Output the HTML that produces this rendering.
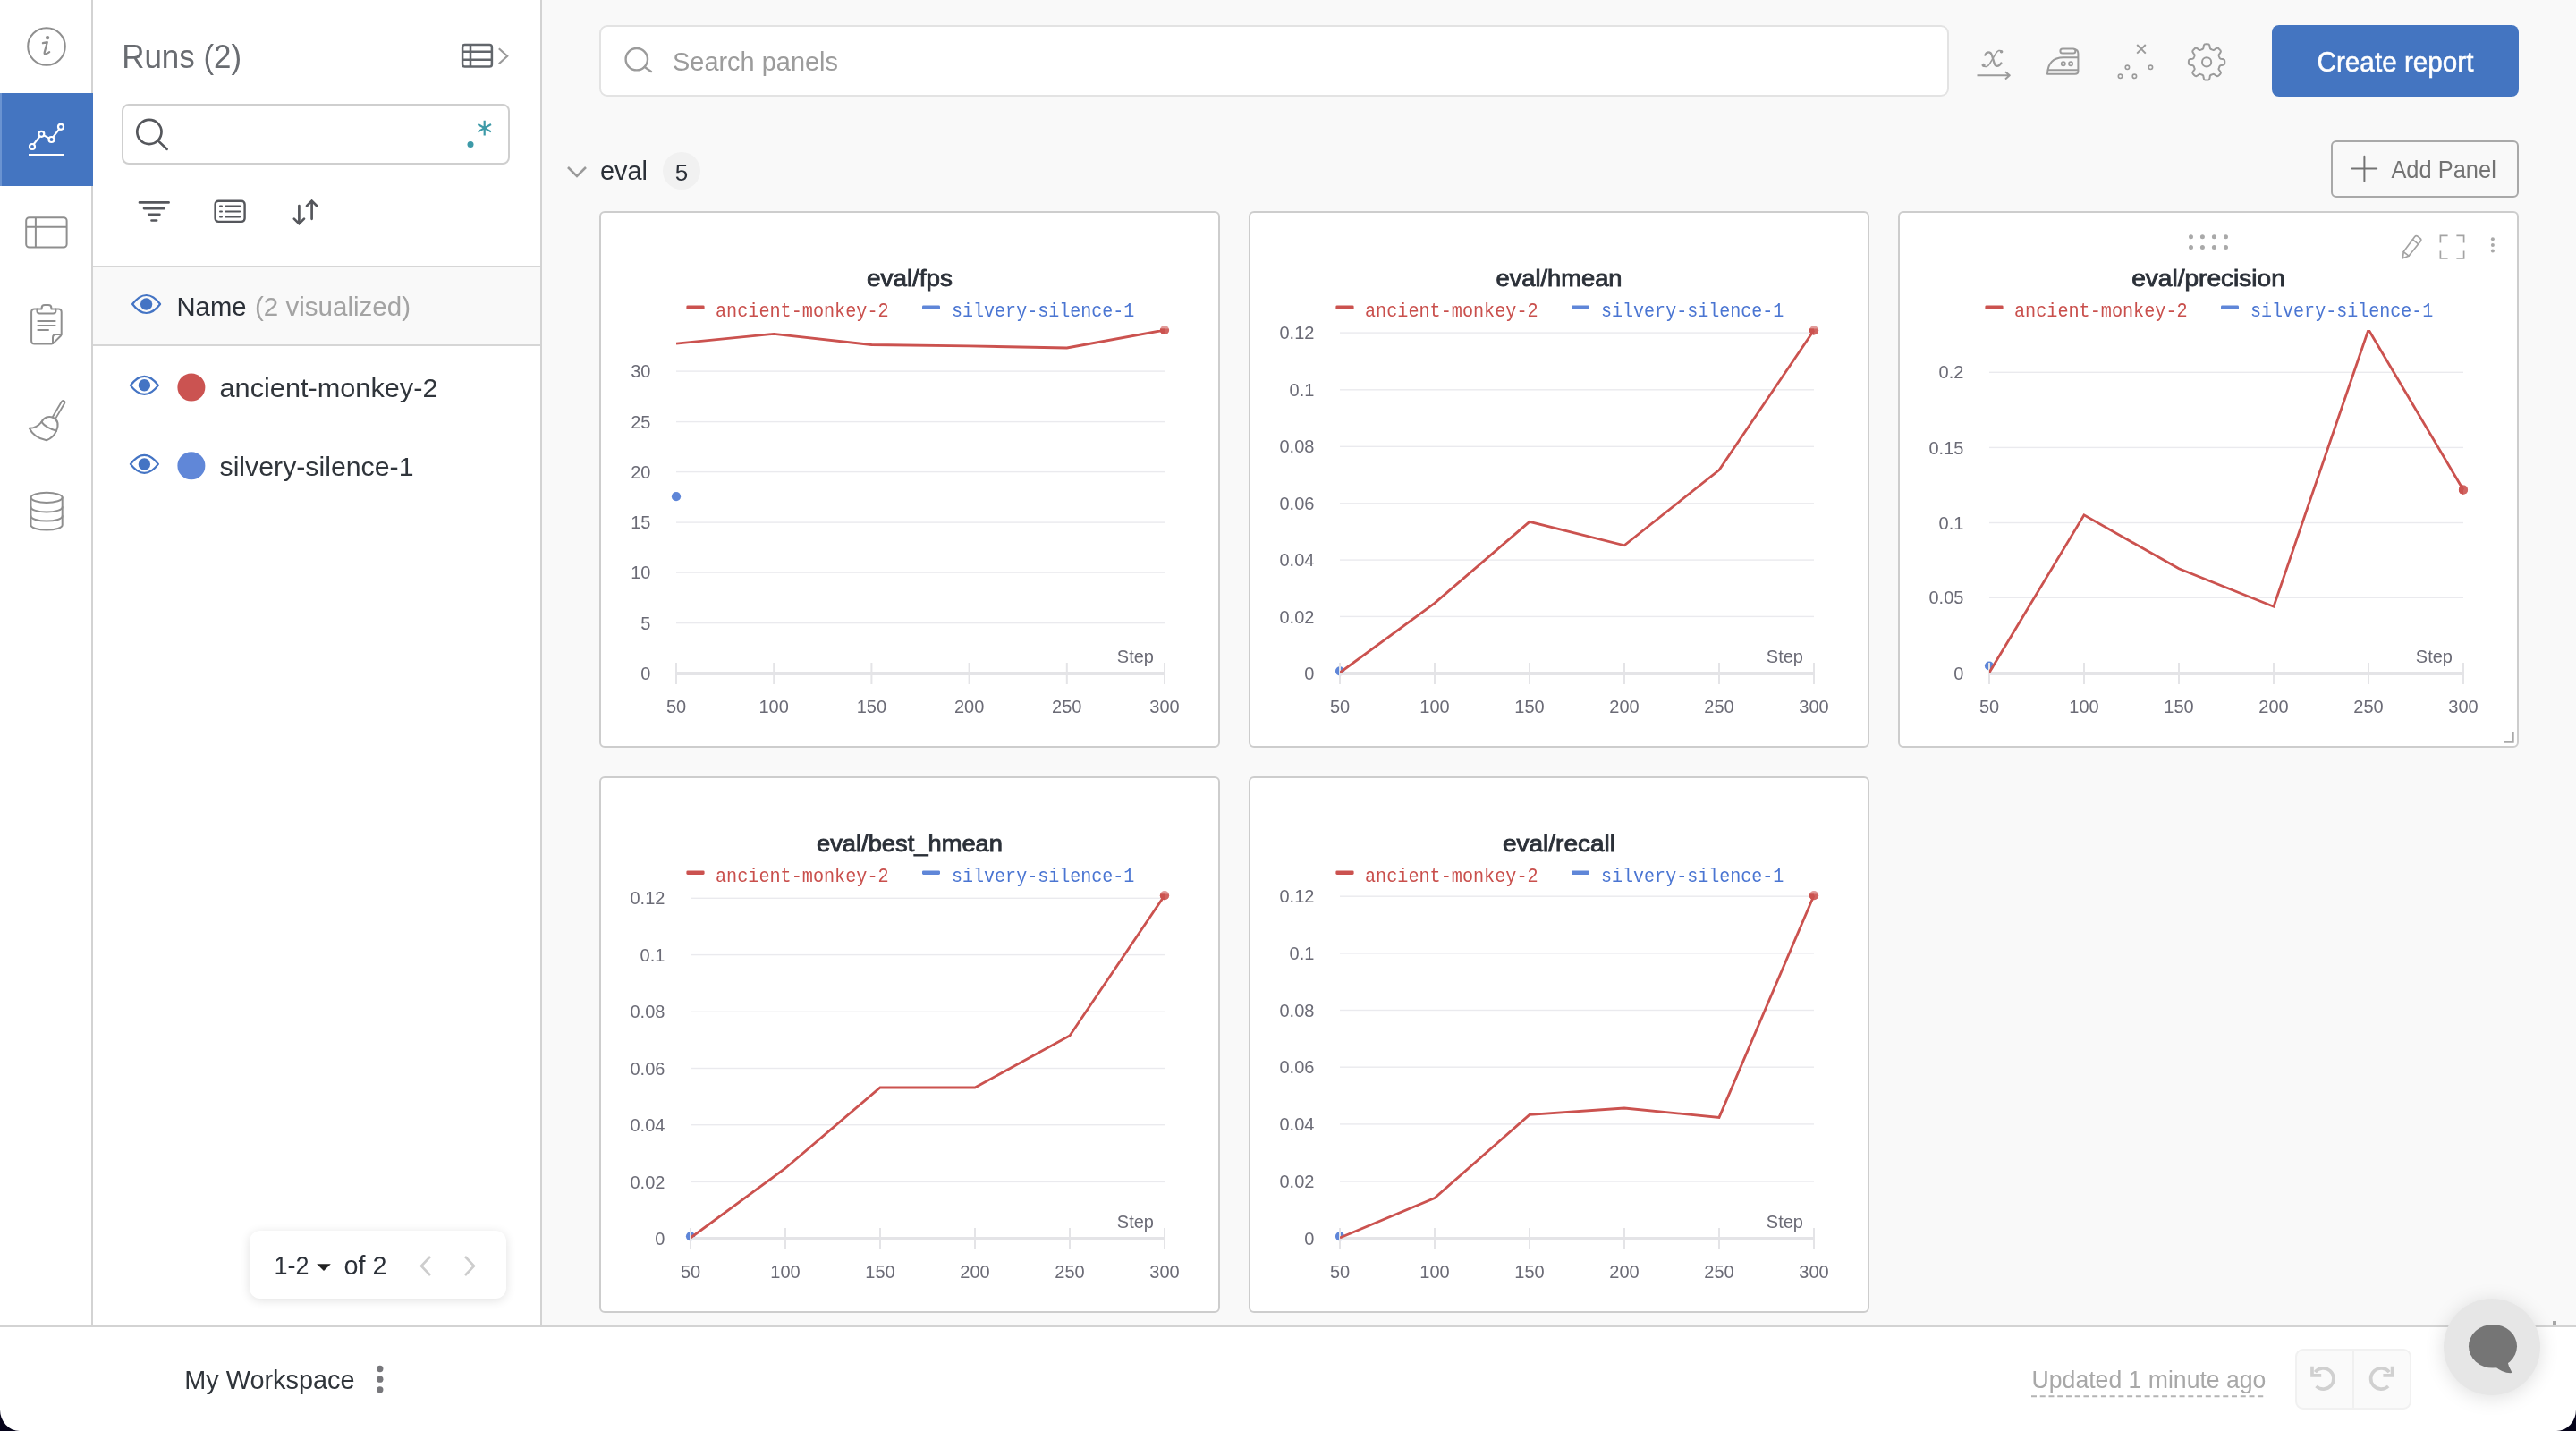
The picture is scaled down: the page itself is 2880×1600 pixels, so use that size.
<!DOCTYPE html>
<html lang="en"><head><meta charset="utf-8"><title>Workspace</title>
<style>
*{box-sizing:border-box;margin:0;padding:0}
html,body{width:2880px;height:1600px;overflow:hidden;background:#fff}
body{position:relative;font-family:"Liberation Sans", sans-serif;color:#2b3038}
svg{display:block;overflow:visible}
#nav,#side,#main,#foot{will-change:transform}
svg text{font-family:"Liberation Sans", sans-serif}
svg text.m{font-family:"Liberation Mono", monospace}
.abs{position:absolute}
.t{position:absolute;white-space:nowrap;line-height:1}
#nav{position:absolute;left:0;top:0;width:104px;height:1482px;background:#fff;border-right:2px solid #d3d3d3}
#nav .active{position:absolute;left:0;top:104px;width:104px;height:104px;background:#4475c1;border-left:2px solid #6a93d1}
#side{position:absolute;left:104px;top:0;width:502px;height:1482px;background:#fff;border-right:2px solid #d3d3d3}
#main{position:absolute;left:606px;top:0;width:2274px;height:1482px;background:#f9f9f9}
#foot{position:absolute;left:0;top:1482px;width:2880px;height:118px;background:#fff;border-top:2px solid #d3d3d3}
.panel{position:absolute;width:694px;height:600px;background:#fff;border:2px solid #cdcdcd;border-radius:6px;overflow:hidden}
.hdr{position:absolute;left:0;top:297px;width:500px;height:90px;background:#f9f9f9;border-top:2px solid #d6d6d6;border-bottom:2px solid #d6d6d6}
.sbox{position:absolute;left:32px;top:116px;width:434px;height:68px;border:2px solid #cfcfcf;border-radius:8px;background:#fff}
.psearch{position:absolute;left:64px;top:28px;width:1509px;height:80px;border:2px solid #e3e3e3;border-radius:9px;background:#fff}
.btn{position:absolute;left:1934px;top:28px;width:276px;height:80px;background:#4475c1;border-radius:8px}
.addp{position:absolute;left:2000px;top:157px;width:210px;height:64px;border:2px solid #a9a9a9;border-radius:6px}
.badge{position:absolute;left:135px;top:170px;width:42px;height:42px;border-radius:21px;background:#f1f1f1}
.pager{position:absolute;left:175px;top:1376px;width:287px;height:76px;background:#fff;border-radius:12px;box-shadow:0 2px 12px rgba(0,0,0,.12)}
.undo{position:absolute;left:2566px;top:24px;width:130px;height:68px;background:#fafafa;border:2px solid #f1f1f1;border-radius:9px}
.undo i{position:absolute;left:62px;top:0;width:2px;height:64px;background:#f0f0f0}
.chat{position:absolute;left:2732px;top:1452px;width:108px;height:108px;border-radius:54px;background:#e6e6e6;box-shadow:0 3px 22px rgba(0,0,0,.13)}
.corner{position:absolute;bottom:0;width:22px;height:24px;background:#05031a;overflow:hidden}
.corner b{position:absolute;width:44px;height:48px;border-radius:22px/24px;background:#fff;top:-24px}
</style></head><body>
<div id="nav">
<div class="active"></div>
<svg class="abs" style="left:0;top:0" width="104" height="700" fill="none" stroke-linecap="round" stroke-linejoin="round"><g stroke="#8f8f8f" stroke-width="2"><circle cx="52" cy="52" r="20.8"/><path d="M47.9 48.2 L52.8 47.2 L49.7 58.6 Q49.2 61 51.4 60.3 Q53.4 59.6 55.2 58.2" stroke-width="2.2"/><circle cx="53.1" cy="42.1" r="1.2" fill="#8f8f8f"/></g><g stroke="#fff" stroke-width="2.2"><path d="M37.8 161.2 L44.4 152.6 M49 151.4 L54.6 154.4 M59.4 153.2 L66 144.6"/><circle cx="36" cy="164" r="3"/><circle cx="46.3" cy="149.8" r="3"/><circle cx="57.5" cy="156" r="3"/><circle cx="68" cy="141.8" r="3"/><path d="M32 173 H72" stroke-linecap="butt"/></g><g stroke="#8f8f8f" stroke-width="2"><rect x="29.2" y="243.2" width="45.4" height="33.4" rx="3.5"/><path d="M39.9 243.2 V276.6 M29.2 253.7 H74.6" stroke-linecap="butt"/><path d="M41.4 345.4 H38.6 Q35.1 345.4 35.1 348.9 V380.9 Q35.1 384.4 38.6 384.4 H57.6 Q59 384.4 60 383.4 L67.7 375.7 Q68.7 374.7 68.7 373.3 V348.9 Q68.7 345.4 65.2 345.4 H62.4"/><path d="M41.4 345.4 H46.6 V344.4 Q46.6 341 50 341 H54 Q57.4 341 57.4 344.4 V345.4 H62.4 V347.6 Q62.4 350.6 59.4 350.6 H44.4 Q41.4 350.6 41.4 347.6 Z"/><path d="M42.4 358.9 H61.6 M42.4 363.9 H61.6 M42.4 369 H54"/><path d="M59 384 V377.5 Q59 374 62.5 374 H68.5"/></g><path d="M70.5 450 L60.4 467.2" stroke="#8f8f8f" stroke-width="5.6"/><path d="M70.5 450 L60.4 467.2" stroke="#fff" stroke-width="1.9"/><g stroke="#8f8f8f" stroke-width="2"><path d="M46.5 471.8 C49 466.5 54.5 464.5 59.5 467 C64.5 469.5 66 474.5 63 481.6" fill="#fff"/><path d="M46.5 471.8 C49.5 476 56 479.5 63 481.6"/><path d="M46.5 471.8 C42.5 476.5 38 478.8 32.8 478.7 C36 485.5 43 490.5 52 492.2 C56.5 490.5 61 486.5 63 481.6"/><ellipse cx="52.1" cy="556.3" rx="17.6" ry="5.6"/><path d="M34.5 556.3 V587 A17.6 5.6 0 0 0 69.7 587 V556.3"/><path d="M34.5 566.9 A17.6 5.6 0 0 0 69.7 566.9 M34.5 577 A17.6 5.6 0 0 0 69.7 577"/></g></svg>
</div>
<div id="side">
<div class="sbox"></div>
<div class="hdr"></div>
<svg class="abs" style="left:0;top:0" width="500" height="1482">
<text x="32.2" y="76" font-size="36.8" fill="#696c71" text-anchor="start" textLength="134" lengthAdjust="spacingAndGlyphs">Runs (2)</text>
<text x="93.5" y="352.6" font-size="29" fill="#2b3038" text-anchor="start" textLength="78" lengthAdjust="spacingAndGlyphs">Name</text>
<text x="181" y="352.5" font-size="30" fill="#a3a3a3" text-anchor="start" textLength="174" lengthAdjust="spacingAndGlyphs">(2 visualized)</text>
<text x="141.5" y="444" font-size="30" fill="#30353b" text-anchor="start" textLength="244" lengthAdjust="spacingAndGlyphs">ancient-monkey-2</text>
<text x="141.5" y="532" font-size="30" fill="#30353b" text-anchor="start" textLength="217" lengthAdjust="spacingAndGlyphs">silvery-silence-1</text>
</svg>
<svg class="abs" style="left:0;top:0" width="500" height="600" fill="none" stroke-linecap="round" stroke-linejoin="round"><g stroke="#62666b" stroke-width="2.5"><rect x="413.1" y="50" width="32.8" height="24.6" rx="2.6"/><path d="M422 50 V74.6 M413.1 57.7 H445.9 M413.1 66.7 H445.9" stroke-linecap="butt"/></g><path d="M453.8 54.2 L463.2 62.7 L453.8 71.2" stroke="#9a9a9a" stroke-width="2.2" stroke-linecap="butt" stroke-linejoin="miter"/><g stroke="#55575c" stroke-width="2.7"><circle cx="62.9" cy="147.5" r="13.6"/><path d="M73 157.6 L82.6 166.8"/><path d="M52 226.4 H84.6 M57 233.1 H79.6 M62.2 239.8 H74.4 M65.5 246.5 H71.1"/></g><g stroke="#55575c" stroke-width="2.4"><rect x="136.6" y="224.8" width="33" height="23.1" rx="3.6"/><path d="M142 230.4 H144 M148.4 230.4 H164.2 M142 236.4 H144 M148.4 236.4 H164.2 M142 242.4 H144 M148.4 242.4 H164.2" stroke-width="2"/></g><g stroke="#55575c" stroke-width="2.7" stroke-linejoin="miter"><path d="M230.4 230 V249.6 M224.8 244.6 L230.4 250.2 L236 244.6"/><path d="M244.6 244.8 V225.2 M239 230.2 L244.6 224.6 L250.2 230.2"/></g><g stroke="#3d9aa8" stroke-width="2.2" stroke-linecap="butt"><path d="M437.7 134.8 V151.6 M430.4 139 L445 147.4 M430.4 147.4 L445 139"/></g><circle cx="422" cy="161.6" r="3.5" fill="#3d9aa8"/><path d="M44.1 340 Q51.6 330 59.6 330 Q67.6 330 75.1 340 Q67.6 350 59.6 350 Q51.6 350 44.1 340 Z" fill="none" stroke="#4474c4" stroke-width="2.2"/><circle cx="59.6" cy="340" r="6.7" fill="#4474c4"/><path d="M41.9 430.8 Q49.4 420.8 57.4 420.8 Q65.4 420.8 72.9 430.8 Q65.4 440.8 57.4 440.8 Q49.4 440.8 41.9 430.8 Z" fill="none" stroke="#4474c4" stroke-width="2.2"/><circle cx="57.4" cy="430.8" r="6.7" fill="#4474c4"/><path d="M41.9 518.9 Q49.4 508.9 57.4 508.9 Q65.4 508.9 72.9 518.9 Q65.4 528.9 57.4 528.9 Q49.4 528.9 41.9 518.9 Z" fill="none" stroke="#4474c4" stroke-width="2.2"/><circle cx="57.4" cy="518.9" r="6.7" fill="#4474c4"/><circle cx="109.9" cy="433" r="15.5" fill="#cb5351"/><circle cx="109.9" cy="520.7" r="15.5" fill="#6087d8"/></svg>
<div class="pager"></div>
<svg class="abs" style="left:0;top:0" width="500" height="1482">
<text x="202.5" y="1425" font-size="30" fill="#2b3038" text-anchor="start" textLength="39" lengthAdjust="spacingAndGlyphs">1-2</text>
<path d="M250.2 1413.3 h15.6 l-7.8 7.8z" fill="#222"/>
<text x="280.5" y="1425" font-size="30" fill="#2b3038" text-anchor="start" textLength="48" lengthAdjust="spacingAndGlyphs">of 2</text>
<path d="M377 1405 l-10 10.5 l10 10.5" fill="none" stroke="#cdcdcd" stroke-width="2.6"/>
<path d="M416 1405 l10 10.5 l-10 10.5" fill="none" stroke="#cdcdcd" stroke-width="2.6"/>
</svg>
</div>
<div id="main">
<div class="psearch"></div>
<div class="btn"></div>
<div class="addp"></div>
<div class="badge"></div>
<svg class="abs" style="left:0;top:0" width="2274" height="240">
<text x="146" y="78.6" font-size="29.5" fill="#9c9c9c" text-anchor="start" textLength="185" lengthAdjust="spacingAndGlyphs">Search panels</text>
<text x="2072" y="79.5" font-size="30.5" fill="#fff" text-anchor="middle" textLength="175" lengthAdjust="spacingAndGlyphs" stroke="#fff" stroke-width=".5">Create report</text>
<text x="65" y="201" font-size="30" fill="#2b3038" text-anchor="start" textLength="53" lengthAdjust="spacingAndGlyphs">eval</text>
<text x="156" y="201.5" font-size="26" fill="#2b3038" text-anchor="middle">5</text>
<text x="2067.4" y="199.2" font-size="27.2" fill="#737373" text-anchor="start" textLength="117.4" lengthAdjust="spacingAndGlyphs">Add Panel</text>
<path d="M2023.6 188.6h27.6M2037.4 174.8v27.6" stroke="#737373" stroke-width="2" stroke-linecap="round" fill="none"/>
<path d="M29 187 l10 10 l10 -10" fill="none" stroke="#9a9a9a" stroke-width="2.6"/>
<g fill="none" stroke="#9b9b9b" stroke-width="2" stroke-linecap="round" stroke-linejoin="round"><path d="M1604.5 84.3 H1640.6 M1636 80.2 L1640.8000000000002 84.3 L1636 88.4" stroke-linecap="butt"/><path d="M1613.4 61.6 C1615 57.4 1619.6 57 1621 62 L1623.6 70.6 C1624.8000000000002 75 1628.6 75 1631.4 70.4" stroke-width="2.3"/><path d="M1631.8000000000002 57.6 C1630 55.6 1627.4 56.2 1625.4 59.6 L1618.4 71.4 C1616.4 75 1613 75.4 1611.1999999999998 73" stroke-width="1.6"/><circle cx="1631.6" cy="57.8" r="1.1" fill="#9b9b9b" stroke-width="1.4"/><circle cx="1611.6" cy="72.8" r="1.4" fill="#9b9b9b" stroke-width="1.4"/><rect x="1697.4" y="54.4" width="17" height="5" rx="2.5"/><path d="M1713.4 55 Q1717.4 55.6 1717.4 60 V79.4 Q1717.4 82.8 1714 82.8 H1683 Q1683.6 64.4 1701 64.2 H1717.4 M1683.4 78.3 H1717.4"/><circle cx="1700.8000000000002" cy="71.2" r="2.1" stroke-width="1.7"/><circle cx="1709.1" cy="71.2" r="2.1" stroke-width="1.7"/><path d="M1783.1999999999998 50 L1792.8000000000002 59.6 M1792.8000000000002 50 L1783.1999999999998 59.6" stroke-linecap="butt"/><circle cx="1772.4" cy="75.3" r="2.2" stroke-width="1.6"/><circle cx="1798.4" cy="75.3" r="2.2" stroke-width="1.6"/><circle cx="1764.5" cy="85.3" r="2.2" stroke-width="1.6"/><circle cx="1780.4" cy="85.3" r="2.2" stroke-width="1.6"/><path d="M1861.1 49.2 L1861.8 49.2 L1862.4 49.3 L1863.1 49.4 L1863.7 49.7 L1864.2 50.5 L1864.6 52.0 L1864.8 53.6 L1865.1 54.4 L1865.5 54.8 L1866.0 55.0 L1866.5 55.2 L1866.9 55.4 L1867.4 55.6 L1867.8 55.7 L1868.3 55.9 L1868.9 56.0 L1869.7 55.6 L1870.9 54.7 L1872.3 53.8 L1873.2 53.6 L1873.9 53.9 L1874.4 54.2 L1874.9 54.7 L1875.4 55.1 L1875.8 55.6 L1876.3 56.1 L1876.6 56.6 L1876.9 57.3 L1876.7 58.2 L1875.8 59.6 L1874.9 60.8 L1874.5 61.6 L1874.6 62.2 L1874.8 62.7 L1874.9 63.1 L1875.1 63.6 L1875.3 64.0 L1875.5 64.5 L1875.7 65.0 L1876.1 65.4 L1876.9 65.7 L1878.5 65.9 L1880.0 66.3 L1880.8 66.8 L1881.1 67.4 L1881.2 68.1 L1881.3 68.7 L1881.3 69.4 L1881.3 70.1 L1881.2 70.7 L1881.1 71.4 L1880.8 72.0 L1880.0 72.5 L1878.5 72.9 L1876.9 73.1 L1876.1 73.4 L1875.7 73.8 L1875.5 74.3 L1875.3 74.8 L1875.1 75.2 L1874.9 75.7 L1874.8 76.1 L1874.6 76.6 L1874.5 77.2 L1874.9 78.0 L1875.8 79.2 L1876.7 80.6 L1876.9 81.5 L1876.6 82.2 L1876.3 82.7 L1875.8 83.2 L1875.4 83.7 L1874.9 84.1 L1874.4 84.6 L1873.9 84.9 L1873.2 85.2 L1872.3 85.0 L1870.9 84.1 L1869.7 83.2 L1868.9 82.8 L1868.3 82.9 L1867.8 83.1 L1867.4 83.2 L1866.9 83.4 L1866.5 83.6 L1866.0 83.8 L1865.5 84.0 L1865.1 84.4 L1864.8 85.2 L1864.6 86.8 L1864.2 88.3 L1863.7 89.1 L1863.1 89.4 L1862.4 89.5 L1861.8 89.6 L1861.1 89.6 L1860.4 89.6 L1859.8 89.5 L1859.1 89.4 L1858.5 89.1 L1858.0 88.3 L1857.6 86.8 L1857.4 85.2 L1857.1 84.4 L1856.7 84.0 L1856.2 83.8 L1855.7 83.6 L1855.3 83.4 L1854.8 83.2 L1854.4 83.1 L1853.9 82.9 L1853.3 82.8 L1852.5 83.2 L1851.3 84.1 L1849.9 85.0 L1849.0 85.2 L1848.3 84.9 L1847.8 84.6 L1847.3 84.1 L1846.8 83.7 L1846.4 83.2 L1845.9 82.7 L1845.6 82.2 L1845.3 81.5 L1845.5 80.6 L1846.4 79.2 L1847.3 78.0 L1847.7 77.2 L1847.6 76.6 L1847.4 76.1 L1847.3 75.7 L1847.1 75.2 L1846.9 74.8 L1846.7 74.3 L1846.5 73.8 L1846.1 73.4 L1845.3 73.1 L1843.7 72.9 L1842.2 72.5 L1841.4 72.0 L1841.1 71.4 L1841.0 70.7 L1840.9 70.1 L1840.9 69.4 L1840.9 68.7 L1841.0 68.1 L1841.1 67.4 L1841.4 66.8 L1842.2 66.3 L1843.7 65.9 L1845.3 65.7 L1846.1 65.4 L1846.5 65.0 L1846.7 64.5 L1846.9 64.0 L1847.1 63.6 L1847.3 63.1 L1847.4 62.7 L1847.6 62.2 L1847.7 61.6 L1847.3 60.8 L1846.4 59.6 L1845.5 58.2 L1845.3 57.3 L1845.6 56.6 L1845.9 56.1 L1846.4 55.6 L1846.8 55.1 L1847.3 54.7 L1847.8 54.2 L1848.3 53.9 L1849.0 53.6 L1849.9 53.8 L1851.3 54.7 L1852.5 55.6 L1853.3 56.0 L1853.9 55.9 L1854.4 55.7 L1854.8 55.6 L1855.3 55.4 L1855.7 55.2 L1856.2 55.0 L1856.7 54.8 L1857.1 54.4 L1857.4 53.6 L1857.6 52.0 L1858.0 50.5 L1858.5 49.7 L1859.1 49.4 L1859.8 49.3 L1860.4 49.2 L1861.1 49.2Z"/><circle cx="1861.1" cy="69.4" r="5.1"/></g><g fill="none" stroke="#9b9b9b" stroke-width="2.4" stroke-linecap="round"><circle cx="105.8" cy="66.2" r="12.2"/><path d="M114.8 75 L122 80"/></g>
</svg>
<div class="panel" style="left:64px;top:236px">
<svg width="690" height="596" viewBox="2 2 690 596">
<clipPath id="c64_236"><rect x="86" y="133" width="600" height="600"/></clipPath>
<circle cx="86" cy="319.2" r="5.1" fill="#5f86d8"/>
<rect x="86" y="459.9" width="546" height="1.4" fill="#eaeaee"/>
<rect x="86" y="403.4" width="546" height="1.4" fill="#eaeaee"/>
<rect x="86" y="347.4" width="546" height="1.4" fill="#eaeaee"/>
<rect x="86" y="290.9" width="546" height="1.4" fill="#eaeaee"/>
<rect x="86" y="234.9" width="546" height="1.4" fill="#eaeaee"/>
<rect x="86" y="178.4" width="546" height="1.4" fill="#eaeaee"/>
<rect x="86" y="515" width="546" height="4" fill="#e4e4e7"/>
<rect x="85.0" y="505" width="2" height="24" fill="#e4e4e7"/>
<rect x="194.2" y="505" width="2" height="24" fill="#e4e4e7"/>
<rect x="303.4" y="505" width="2" height="24" fill="#e4e4e7"/>
<rect x="412.6" y="505" width="2" height="24" fill="#e4e4e7"/>
<rect x="521.8" y="505" width="2" height="24" fill="#e4e4e7"/>
<rect x="631.0" y="505" width="2" height="24" fill="#e4e4e7"/>
<g font-size="20" fill="#6b6b76">
<text x="57.4" y="524.2" text-anchor="end">0</text>
<text x="57.4" y="467.7" text-anchor="end">5</text>
<text x="57.4" y="411.2" text-anchor="end">10</text>
<text x="57.4" y="355.2" text-anchor="end">15</text>
<text x="57.4" y="298.7" text-anchor="end">20</text>
<text x="57.4" y="242.7" text-anchor="end">25</text>
<text x="57.4" y="186.2" text-anchor="end">30</text>
<text x="86.0" y="561" text-anchor="middle">50</text>
<text x="195.2" y="561" text-anchor="middle">100</text>
<text x="304.4" y="561" text-anchor="middle">150</text>
<text x="413.6" y="561" text-anchor="middle">200</text>
<text x="522.8" y="561" text-anchor="middle">250</text>
<text x="632.0" y="561" text-anchor="middle">300</text>
<text x="620" y="505" text-anchor="end">Step</text>
</g>
<polyline points="86.0,148.2 195.2,137.3 304.4,149.5 413.6,150.9 522.8,153.0 632.0,133.0" fill="none" stroke="#cb524f" stroke-width="2.8" stroke-linejoin="miter" clip-path="url(#c64_236)"/>
<clipPath id="d64_236"><rect x="0" y="131.4" width="700" height="600"/></clipPath>
<clipPath id="e64_236"><rect x="0" y="131.4" width="632" height="600"/></clipPath>
<circle cx="632" cy="133.0" r="5.1" fill="#cb524f" fill-opacity=".58"/>
<circle cx="632" cy="133.0" r="5.1" fill="#cb524f" fill-opacity=".75" clip-path="url(#d64_236)"/>
<circle cx="632" cy="133.0" r="5.1" fill="#cb524f" clip-path="url(#e64_236)"/>
<text x="347" y="83.5" font-size="26" fill="#2b3038" text-anchor="middle" textLength="96" lengthAdjust="spacingAndGlyphs" stroke="#2b3038" stroke-width=".85">eval/fps</text>
<rect x="97.4" y="105.4" width="20.2" height="4.5" rx="1.4" fill="#cb524f"/>
<text x="130" y="118" font-size="22.5" fill="#c94f4c" text-anchor="start" class="m" textLength="193.6" lengthAdjust="spacingAndGlyphs">ancient-monkey-2</text>
<rect x="361" y="105.4" width="20" height="4.5" rx="1.4" fill="#5f86d8"/>
<text x="394" y="118" font-size="22.5" fill="#4a75d2" text-anchor="start" class="m" textLength="204.4" lengthAdjust="spacingAndGlyphs">silvery-silence-1</text>
</svg></div>
<div class="panel" style="left:790px;top:236px">
<svg width="690" height="596" viewBox="2 2 690 596">
<clipPath id="c790_236"><rect x="102" y="133" width="600" height="600"/></clipPath>
<circle cx="102" cy="514.3" r="5.1" fill="#5f86d8"/>
<rect x="102" y="452.7" width="530" height="1.4" fill="#eaeaee"/>
<rect x="102" y="389.4" width="530" height="1.4" fill="#eaeaee"/>
<rect x="102" y="326.1" width="530" height="1.4" fill="#eaeaee"/>
<rect x="102" y="262.6" width="530" height="1.4" fill="#eaeaee"/>
<rect x="102" y="199.1" width="530" height="1.4" fill="#eaeaee"/>
<rect x="102" y="135.4" width="530" height="1.4" fill="#eaeaee"/>
<rect x="102" y="515" width="530" height="4" fill="#e4e4e7"/>
<rect x="101.0" y="505" width="2" height="24" fill="#e4e4e7"/>
<rect x="207.0" y="505" width="2" height="24" fill="#e4e4e7"/>
<rect x="313.0" y="505" width="2" height="24" fill="#e4e4e7"/>
<rect x="419.0" y="505" width="2" height="24" fill="#e4e4e7"/>
<rect x="525.0" y="505" width="2" height="24" fill="#e4e4e7"/>
<rect x="631.0" y="505" width="2" height="24" fill="#e4e4e7"/>
<g font-size="20" fill="#6b6b76">
<text x="73.4" y="524.2" text-anchor="end">0</text>
<text x="73.4" y="460.5" text-anchor="end">0.02</text>
<text x="73.4" y="397.2" text-anchor="end">0.04</text>
<text x="73.4" y="333.9" text-anchor="end">0.06</text>
<text x="73.4" y="270.4" text-anchor="end">0.08</text>
<text x="73.4" y="206.9" text-anchor="end">0.1</text>
<text x="73.4" y="143.2" text-anchor="end">0.12</text>
<text x="102.0" y="561" text-anchor="middle">50</text>
<text x="208.0" y="561" text-anchor="middle">100</text>
<text x="314.0" y="561" text-anchor="middle">150</text>
<text x="420.0" y="561" text-anchor="middle">200</text>
<text x="526.0" y="561" text-anchor="middle">250</text>
<text x="632.0" y="561" text-anchor="middle">300</text>
<text x="620" y="505" text-anchor="end">Step</text>
</g>
<polyline points="102.0,516.0 208.0,438.3 314.0,347.4 420.0,373.8 526.0,289.5 632.0,133.3" fill="none" stroke="#cb524f" stroke-width="2.8" stroke-linejoin="miter" clip-path="url(#c790_236)"/>
<clipPath id="d790_236"><rect x="0" y="131.4" width="700" height="600"/></clipPath>
<clipPath id="e790_236"><rect x="0" y="131.4" width="632" height="600"/></clipPath>
<circle cx="632" cy="133.3" r="5.1" fill="#cb524f" fill-opacity=".58"/>
<circle cx="632" cy="133.3" r="5.1" fill="#cb524f" fill-opacity=".75" clip-path="url(#d790_236)"/>
<circle cx="632" cy="133.3" r="5.1" fill="#cb524f" clip-path="url(#e790_236)"/>
<text x="347" y="83.5" font-size="26" fill="#2b3038" text-anchor="middle" textLength="141" lengthAdjust="spacingAndGlyphs" stroke="#2b3038" stroke-width=".85">eval/hmean</text>
<rect x="97.4" y="105.4" width="20.2" height="4.5" rx="1.4" fill="#cb524f"/>
<text x="130" y="118" font-size="22.5" fill="#c94f4c" text-anchor="start" class="m" textLength="193.6" lengthAdjust="spacingAndGlyphs">ancient-monkey-2</text>
<rect x="361" y="105.4" width="20" height="4.5" rx="1.4" fill="#5f86d8"/>
<text x="394" y="118" font-size="22.5" fill="#4a75d2" text-anchor="start" class="m" textLength="204.4" lengthAdjust="spacingAndGlyphs">silvery-silence-1</text>
</svg></div>
<div class="panel" style="left:1516px;top:236px">
<svg width="690" height="596" viewBox="2 2 690 596">
<clipPath id="c1516_236"><rect x="102" y="133" width="600" height="600"/></clipPath>
<circle cx="102" cy="508.5" r="5.1" fill="#5f86d8"/>
<rect x="102" y="431.6" width="530" height="1.4" fill="#eaeaee"/>
<rect x="102" y="347.8" width="530" height="1.4" fill="#eaeaee"/>
<rect x="102" y="263.7" width="530" height="1.4" fill="#eaeaee"/>
<rect x="102" y="179.6" width="530" height="1.4" fill="#eaeaee"/>
<rect x="102" y="515" width="530" height="4" fill="#e4e4e7"/>
<rect x="101.0" y="505" width="2" height="24" fill="#e4e4e7"/>
<rect x="207.0" y="505" width="2" height="24" fill="#e4e4e7"/>
<rect x="313.0" y="505" width="2" height="24" fill="#e4e4e7"/>
<rect x="419.0" y="505" width="2" height="24" fill="#e4e4e7"/>
<rect x="525.0" y="505" width="2" height="24" fill="#e4e4e7"/>
<rect x="631.0" y="505" width="2" height="24" fill="#e4e4e7"/>
<g font-size="20" fill="#6b6b76">
<text x="73.4" y="524.2" text-anchor="end">0</text>
<text x="73.4" y="439.4" text-anchor="end">0.05</text>
<text x="73.4" y="355.6" text-anchor="end">0.1</text>
<text x="73.4" y="271.5" text-anchor="end">0.15</text>
<text x="73.4" y="187.4" text-anchor="end">0.2</text>
<text x="102.0" y="561" text-anchor="middle">50</text>
<text x="208.0" y="561" text-anchor="middle">100</text>
<text x="314.0" y="561" text-anchor="middle">150</text>
<text x="420.0" y="561" text-anchor="middle">200</text>
<text x="526.0" y="561" text-anchor="middle">250</text>
<text x="632.0" y="561" text-anchor="middle">300</text>
<text x="620" y="505" text-anchor="end">Step</text>
</g>
<polyline points="102.0,516.0 208.0,339.9 314.0,399.8 420.0,442.2 526.0,132.5 632.0,311.7" fill="none" stroke="#cb524f" stroke-width="2.8" stroke-linejoin="miter" clip-path="url(#c1516_236)"/>
<clipPath id="d1516_236"><rect x="0" y="131.4" width="700" height="600"/></clipPath>
<clipPath id="e1516_236"><rect x="0" y="131.4" width="632" height="600"/></clipPath>
<circle cx="632" cy="311.7" r="5.1" fill="#cb524f" fill-opacity=".58"/>
<circle cx="632" cy="311.7" r="5.1" fill="#cb524f" fill-opacity=".75" clip-path="url(#d1516_236)"/>
<circle cx="632" cy="311.7" r="5.1" fill="#cb524f" clip-path="url(#e1516_236)"/>
<text x="347" y="83.5" font-size="26" fill="#2b3038" text-anchor="middle" textLength="171.5" lengthAdjust="spacingAndGlyphs" stroke="#2b3038" stroke-width=".85">eval/precision</text>
<rect x="97.4" y="105.4" width="20.2" height="4.5" rx="1.4" fill="#cb524f"/>
<text x="130" y="118" font-size="22.5" fill="#c94f4c" text-anchor="start" class="m" textLength="193.6" lengthAdjust="spacingAndGlyphs">ancient-monkey-2</text>
<rect x="361" y="105.4" width="20" height="4.5" rx="1.4" fill="#5f86d8"/>
<text x="394" y="118" font-size="22.5" fill="#4a75d2" text-anchor="start" class="m" textLength="204.4" lengthAdjust="spacingAndGlyphs">silvery-silence-1</text>
<g fill="#a9a9a9"><circle cx="327.5" cy="28.8" r="2.5"/><circle cx="327.5" cy="40.6" r="2.5"/><circle cx="340.4" cy="28.8" r="2.5"/><circle cx="340.4" cy="40.6" r="2.5"/><circle cx="353.4" cy="28.8" r="2.5"/><circle cx="353.4" cy="40.6" r="2.5"/><circle cx="366.5" cy="28.8" r="2.5"/><circle cx="366.5" cy="40.6" r="2.5"/><circle cx="664.9" cy="31.2" r="2"/><circle cx="664.9" cy="37.9" r="2"/><circle cx="664.9" cy="44.5" r="2"/></g><g fill="none" stroke="#a3a3a3" stroke-width="1.7" stroke-linejoin="round" stroke-linecap="round"><path d="M577.6 28.8 Q579.2 26.8 581.2 28.4 L583.8 30.5 Q585.6 32 584.2 33.8 L571 50.2 L564.3 52.8 L565.2 45.6 Z"/><path d="M575.4 31.8 L581.4 36.6 M565.2 45.6 L571 50.2"/><path d="M606.4 35.6 V27.4 H614.6 M624.4 27.4 H632.6 V35.6 M632.6 44.6 V52.8 H624.4 M614.6 52.8 H606.4 V44.6" stroke-linecap="butt" stroke-linejoin="miter"/></g><path d="M677 593.5 H687.5 V583" fill="none" stroke="#a9a9a9" stroke-width="2.4"/>
</svg></div>
<div class="panel" style="left:64px;top:868px">
<svg width="690" height="596" viewBox="2 2 690 596">
<clipPath id="c64_868"><rect x="102" y="133" width="600" height="600"/></clipPath>
<circle cx="102" cy="514.3" r="5.1" fill="#5f86d8"/>
<rect x="102" y="452.7" width="530" height="1.4" fill="#eaeaee"/>
<rect x="102" y="389.0" width="530" height="1.4" fill="#eaeaee"/>
<rect x="102" y="325.8" width="530" height="1.4" fill="#eaeaee"/>
<rect x="102" y="262.6" width="530" height="1.4" fill="#eaeaee"/>
<rect x="102" y="198.9" width="530" height="1.4" fill="#eaeaee"/>
<rect x="102" y="135.6" width="530" height="1.4" fill="#eaeaee"/>
<rect x="102" y="515" width="530" height="4" fill="#e4e4e7"/>
<rect x="101.0" y="505" width="2" height="24" fill="#e4e4e7"/>
<rect x="207.0" y="505" width="2" height="24" fill="#e4e4e7"/>
<rect x="313.0" y="505" width="2" height="24" fill="#e4e4e7"/>
<rect x="419.0" y="505" width="2" height="24" fill="#e4e4e7"/>
<rect x="525.0" y="505" width="2" height="24" fill="#e4e4e7"/>
<rect x="631.0" y="505" width="2" height="24" fill="#e4e4e7"/>
<g font-size="20" fill="#6b6b76">
<text x="73.4" y="524.2" text-anchor="end">0</text>
<text x="73.4" y="460.5" text-anchor="end">0.02</text>
<text x="73.4" y="396.8" text-anchor="end">0.04</text>
<text x="73.4" y="333.6" text-anchor="end">0.06</text>
<text x="73.4" y="270.4" text-anchor="end">0.08</text>
<text x="73.4" y="206.7" text-anchor="end">0.1</text>
<text x="73.4" y="143.4" text-anchor="end">0.12</text>
<text x="102.0" y="561" text-anchor="middle">50</text>
<text x="208.0" y="561" text-anchor="middle">100</text>
<text x="314.0" y="561" text-anchor="middle">150</text>
<text x="420.0" y="561" text-anchor="middle">200</text>
<text x="526.0" y="561" text-anchor="middle">250</text>
<text x="632.0" y="561" text-anchor="middle">300</text>
<text x="620" y="505" text-anchor="end">Step</text>
</g>
<polyline points="102.0,516.0 208.0,438.2 314.0,348.0 420.0,348.0 526.0,290.0 632.0,133.2" fill="none" stroke="#cb524f" stroke-width="2.8" stroke-linejoin="miter" clip-path="url(#c64_868)"/>
<clipPath id="d64_868"><rect x="0" y="131.4" width="700" height="600"/></clipPath>
<clipPath id="e64_868"><rect x="0" y="131.4" width="632" height="600"/></clipPath>
<circle cx="632" cy="133.2" r="5.1" fill="#cb524f" fill-opacity=".58"/>
<circle cx="632" cy="133.2" r="5.1" fill="#cb524f" fill-opacity=".75" clip-path="url(#d64_868)"/>
<circle cx="632" cy="133.2" r="5.1" fill="#cb524f" clip-path="url(#e64_868)"/>
<text x="347" y="83.5" font-size="26" fill="#2b3038" text-anchor="middle" textLength="208" lengthAdjust="spacingAndGlyphs" stroke="#2b3038" stroke-width=".85">eval/best_hmean</text>
<rect x="97.4" y="105.4" width="20.2" height="4.5" rx="1.4" fill="#cb524f"/>
<text x="130" y="118" font-size="22.5" fill="#c94f4c" text-anchor="start" class="m" textLength="193.6" lengthAdjust="spacingAndGlyphs">ancient-monkey-2</text>
<rect x="361" y="105.4" width="20" height="4.5" rx="1.4" fill="#5f86d8"/>
<text x="394" y="118" font-size="22.5" fill="#4a75d2" text-anchor="start" class="m" textLength="204.4" lengthAdjust="spacingAndGlyphs">silvery-silence-1</text>
</svg></div>
<div class="panel" style="left:790px;top:868px">
<svg width="690" height="596" viewBox="2 2 690 596">
<clipPath id="c790_868"><rect x="102" y="133" width="600" height="600"/></clipPath>
<circle cx="102" cy="514.3" r="5.1" fill="#5f86d8"/>
<rect x="102" y="452.3" width="530" height="1.4" fill="#eaeaee"/>
<rect x="102" y="388.2" width="530" height="1.4" fill="#eaeaee"/>
<rect x="102" y="324.5" width="530" height="1.4" fill="#eaeaee"/>
<rect x="102" y="260.8" width="530" height="1.4" fill="#eaeaee"/>
<rect x="102" y="197.2" width="530" height="1.4" fill="#eaeaee"/>
<rect x="102" y="133.5" width="530" height="1.4" fill="#eaeaee"/>
<rect x="102" y="515" width="530" height="4" fill="#e4e4e7"/>
<rect x="101.0" y="505" width="2" height="24" fill="#e4e4e7"/>
<rect x="207.0" y="505" width="2" height="24" fill="#e4e4e7"/>
<rect x="313.0" y="505" width="2" height="24" fill="#e4e4e7"/>
<rect x="419.0" y="505" width="2" height="24" fill="#e4e4e7"/>
<rect x="525.0" y="505" width="2" height="24" fill="#e4e4e7"/>
<rect x="631.0" y="505" width="2" height="24" fill="#e4e4e7"/>
<g font-size="20" fill="#6b6b76">
<text x="73.4" y="524.2" text-anchor="end">0</text>
<text x="73.4" y="460.1" text-anchor="end">0.02</text>
<text x="73.4" y="396.0" text-anchor="end">0.04</text>
<text x="73.4" y="332.3" text-anchor="end">0.06</text>
<text x="73.4" y="268.6" text-anchor="end">0.08</text>
<text x="73.4" y="205.0" text-anchor="end">0.1</text>
<text x="73.4" y="141.3" text-anchor="end">0.12</text>
<text x="102.0" y="561" text-anchor="middle">50</text>
<text x="208.0" y="561" text-anchor="middle">100</text>
<text x="314.0" y="561" text-anchor="middle">150</text>
<text x="420.0" y="561" text-anchor="middle">200</text>
<text x="526.0" y="561" text-anchor="middle">250</text>
<text x="632.0" y="561" text-anchor="middle">300</text>
<text x="620" y="505" text-anchor="end">Step</text>
</g>
<polyline points="102.0,516.0 208.0,471.5 314.0,378.4 420.0,371.0 526.0,381.4 632.0,133.2" fill="none" stroke="#cb524f" stroke-width="2.8" stroke-linejoin="miter" clip-path="url(#c790_868)"/>
<clipPath id="d790_868"><rect x="0" y="131.4" width="700" height="600"/></clipPath>
<clipPath id="e790_868"><rect x="0" y="131.4" width="632" height="600"/></clipPath>
<circle cx="632" cy="133.2" r="5.1" fill="#cb524f" fill-opacity=".58"/>
<circle cx="632" cy="133.2" r="5.1" fill="#cb524f" fill-opacity=".75" clip-path="url(#d790_868)"/>
<circle cx="632" cy="133.2" r="5.1" fill="#cb524f" clip-path="url(#e790_868)"/>
<text x="347" y="83.5" font-size="26" fill="#2b3038" text-anchor="middle" textLength="126" lengthAdjust="spacingAndGlyphs" stroke="#2b3038" stroke-width=".85">eval/recall</text>
<rect x="97.4" y="105.4" width="20.2" height="4.5" rx="1.4" fill="#cb524f"/>
<text x="130" y="118" font-size="22.5" fill="#c94f4c" text-anchor="start" class="m" textLength="193.6" lengthAdjust="spacingAndGlyphs">ancient-monkey-2</text>
<rect x="361" y="105.4" width="20" height="4.5" rx="1.4" fill="#5f86d8"/>
<text x="394" y="118" font-size="22.5" fill="#4a75d2" text-anchor="start" class="m" textLength="204.4" lengthAdjust="spacingAndGlyphs">silvery-silence-1</text>
</svg></div>
<div class="abs" style="left:2247.7px;top:1477px;width:4.3px;height:5px;background:#a6a6a6"></div>
</div>
<div id="foot">
<div class="undo"><i></i></div>
<svg class="abs" style="left:0;top:-2px" width="2880" height="118">
<text x="206.2" y="70.6" font-size="29.2" fill="#30353b" text-anchor="start" textLength="190.4" lengthAdjust="spacingAndGlyphs">My Workspace</text>
<circle cx="424.8" cy="48.5" r="3.65" fill="#77777b"/><circle cx="424.8" cy="60.2" r="3.65" fill="#77777b"/><circle cx="424.8" cy="71.8" r="3.65" fill="#77777b"/>
<text x="2271.6" y="70.2" font-size="28.4" fill="#a8a8a8" text-anchor="start" textLength="261.8" lengthAdjust="spacingAndGlyphs">Updated 1 minute ago</text>
<path d="M2271 79.2h263" stroke="#b4b4b4" stroke-width="2" stroke-dasharray="6 3.74" fill="none"/>
<g fill="none" stroke="#d0d0d0" stroke-width="3.7" stroke-linecap="butt" stroke-linejoin="miter"><path d="M2588.4 52.2 A11.6 11.6 0 1 1 2589.5 68.0"/><path d="M2585.0 45.7 V55.8 H2595.2"/><path d="M2671.2 52.2 A11.6 11.6 0 1 0 2670.1 68.0"/><path d="M2674.6 45.7 V55.8 H2664.4"/></g>
</svg>
</div>
<div class="chat"><svg class="abs" style="left:0;top:0" width="108" height="108"><ellipse cx="55.0" cy="53.2" rx="27" ry="24.3" fill="#757575"/><path d="M58.0 76.2 Q65.0 82.8 75.0 83.2 Q76.8 83.0 75.8 81.2 Q72.6 76.2 71.4 70.2 Z" fill="#757575"/></svg></div>
<div class="corner" style="left:0"><b style="left:0"></b></div>
<div class="corner" style="right:0"><b style="right:0"></b></div>
</body></html>
